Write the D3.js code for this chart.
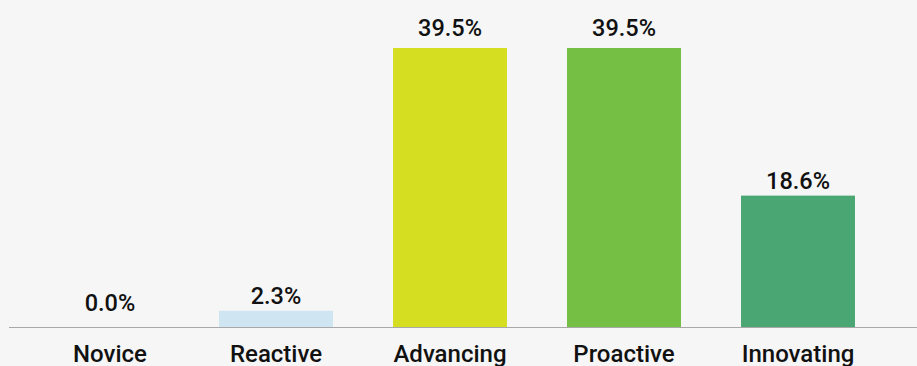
<!DOCTYPE html>
<html lang="en">
<head>
<meta charset="UTF-8">
<title>maturity</title>
<script src="https://cdn.jsdelivr.net/npm/d3@7"></script>
<style>
  html, body { margin:0; padding:0; background:#f6f6f6; }
  .val, .cat { font-family: Roboto, sans-serif; font-weight:500; fill:#111; text-anchor:middle; }
  .val { font-size:23.5px; }
  .cat { font-size:24px; }
</style>
</head>
<body>
<div id="chart"></div>
<script>
// data
var categories = ["Novice", "Reactive", "Advancing", "Proactive", "Innovating"];
var values = [0.0, 2.3, 39.5, 39.5, 18.6];
var colors = ["#cfe5f1", "#cfe5f1", "#d6de22", "#74bf44", "#4aa672"];

var W = 917, H = 366;
var svg = d3.select("#chart").append("svg")
    .attr("width", W).attr("height", H);

var x = d3.scaleBand()
    .domain(categories)
    .range([15, 885])
    .paddingInner(0.345)
    .paddingOuter(0.1725);

var y = d3.scaleLinear()
    .domain([0, d3.max(values)])
    .range([327, 48]);

var data = categories.map(function(c, i){ return {cat:c, v:values[i], col:colors[i]}; });
var vmax = d3.max(values);

// label centre, first column's labels sit a bit to the right in the original
var labelX = d => Math.max(x(d.cat) + x.bandwidth()/2, 110);

// bars
svg.selectAll(".bar").data(data).enter().append("rect")
    .attr("class", "bar")
    .attr("x", d => x(d.cat))
    .attr("width", x.bandwidth())
    .attr("y", d => y(d.v))
    .attr("height", d => y(0) - y(d.v))
    .attr("fill", d => d.col);

// baseline
svg.append("line")
    .attr("x1", 9).attr("x2", W)
    .attr("y1", y(0) + 0.5).attr("y2", y(0) + 0.5)
    .attr("stroke", "#a8a8a8").attr("stroke-width", 1);

// value labels
svg.selectAll(".val").data(data).enter().append("text")
    .attr("class", "val")
    .attr("x", labelX)
    .attr("y", function(d){
        if (d.v === 0) return y(0) - 16;
        return y(d.v) - (d.v === vmax ? 12 : 7);
    })
    .text(d => d.v.toFixed(1) + "%");

// category labels
svg.selectAll(".cat").data(data).enter().append("text")
    .attr("class", "cat")
    .attr("x", labelX)
    .attr("y", 362)
    .text(d => d.cat);
</script>
</body>
</html>
